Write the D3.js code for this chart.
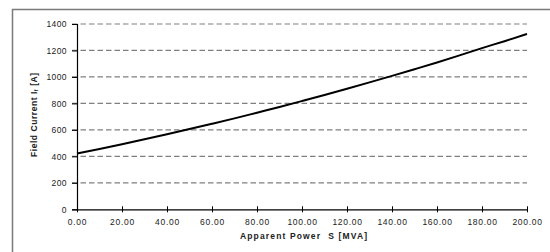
<!DOCTYPE html>
<html><head><meta charset="utf-8">
<script src="https://cdn.jsdelivr.net/npm/d3@7"></script>
<style>
html,body{margin:0;padding:0;background:#fff;}
svg{display:block;font-family:"Liberation Sans",Arial,sans-serif;}
</style></head>
<body><svg id="c" width="550" height="252"></svg>
<script>
const powerS = [0,10,20,30,40,50,60,70,80,90,100,110,120,130,140,150,160,170,180,190,200];
const fieldCurrent = [421,456,492,529,567,606,646,687,730,773,818,864,911,959,1008,1058,1109,1163,1218,1270,1325];
const xTicks = [0,20,40,60,80,100,120,140,160,180,200];
const yTicks = [0,200,400,600,800,1000,1200,1400];

const svg = d3.select("#c");
// outer frame
svg.append("path").attr("d","M12.5,252 L12.5,9.5 L552,9.5")
  .attr("fill","none").attr("stroke","#7a7a7a").attr("stroke-width",1.5);

const x = d3.scaleLinear().domain([0,200]).range([77,527]);
const y = d3.scaleLinear().domain([0,1400]).range([209.3,24]);

// gridlines
svg.append("g").selectAll("line").data(yTicks.filter(d=>d>0)).join("line")
  .attr("x1",72).attr("x2",527).attr("y1",d=>y(d)).attr("y2",d=>y(d))
  .attr("stroke","#808080").attr("stroke-width",1.2).attr("stroke-dasharray","5.5,3");

// y axis
const ya = svg.append("g").attr("transform","translate(77,0)")
  .call(d3.axisLeft(y).tickValues(yTicks).tickFormat(d3.format("d")).tickSize(5).tickPadding(5));
ya.select(".domain").attr("stroke","#000").attr("stroke-width",1.2);
ya.selectAll(".tick line").attr("stroke","#000");
ya.selectAll("text").attr("font-size",8.5).attr("letter-spacing",0.4).attr("fill","#222")
  .attr("font-family","Liberation Sans, Arial, sans-serif");

// x axis
const xa = svg.append("g").attr("transform","translate(0,209.3)")
  .call(d3.axisBottom(x).tickValues(xTicks).tickFormat(d3.format(".2f")).tickSizeInner(3).tickSizeOuter(0).tickPadding(7));
xa.select(".domain").attr("stroke","#000").attr("stroke-width",1.2);
xa.selectAll(".tick line").attr("stroke","#000").attr("y1",-3).attr("y2",3);
xa.selectAll("text").attr("font-size",8.5).attr("letter-spacing",0.7).attr("fill","#222")
  .attr("font-family","Liberation Sans, Arial, sans-serif");

// curve
const line = d3.line().x((d,i)=>x(powerS[i])).y(d=>y(d)).curve(d3.curveMonotoneX);
svg.append("path").datum(fieldCurrent).attr("d",line)
  .attr("fill","none").attr("stroke","#000").attr("stroke-width",2);

// x title
svg.append("text").attr("x",240).attr("y",239)
  .attr("font-size",8.5).attr("font-weight","bold").attr("fill","#222")
  .attr("textLength",127).attr("lengthAdjust","spacing")
  .attr("xml:space","preserve").text("Apparent Power  S [MVA]");

// y title
const yt = svg.append("text").attr("transform","translate(36.5,157) rotate(-90)")
  .attr("font-size",8.5).attr("font-weight","bold").attr("fill","#222")
  .attr("letter-spacing",0.55);
yt.append("tspan").text("Field Current I");
yt.append("tspan").attr("font-size",5.5).attr("dy",1.5).text("f");
yt.append("tspan").attr("dy",-1.5).text(" [A]");
</script></body></html>
